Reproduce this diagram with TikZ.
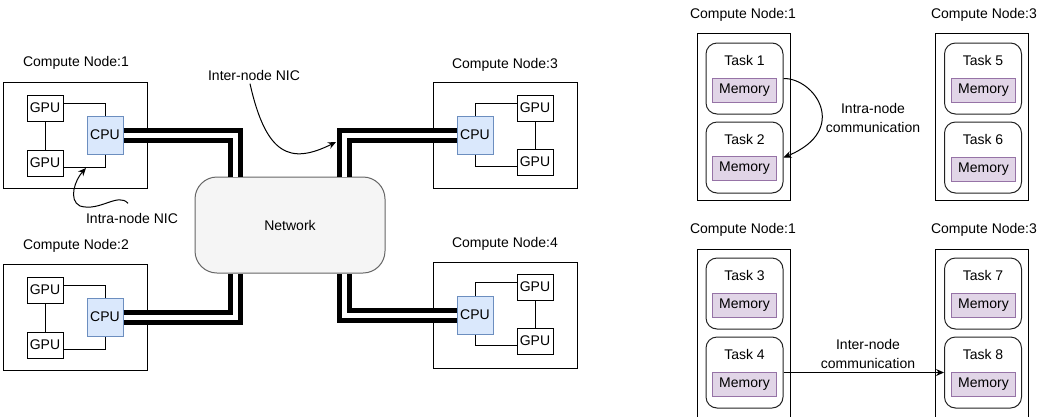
\documentclass[tikz,border=0pt]{standalone}
\usepackage{fontspec}
\setmainfont{Liberation Sans}
\usetikzlibrary{arrows.meta}

\definecolor{cpufill}{HTML}{DAE8FC}
\definecolor{cpuline}{HTML}{6C8EBF}
\definecolor{netfill}{HTML}{F5F5F5}
\definecolor{netline}{HTML}{666666}
\definecolor{memfill}{HTML}{E1D5E7}
\definecolor{memline}{HTML}{9673A6}
\definecolor{taskline}{HTML}{222222}

\tikzset{
  box/.style={draw, line width=1pt, inner sep=0pt},
  gpu/.style={draw, line width=1pt, minimum width=36pt, minimum height=26pt, inner sep=1pt},
  cpu/.style={draw=cpuline, fill=cpufill, line width=1pt, minimum width=36pt, minimum height=38pt, inner sep=1pt},
  netw/.style={draw=netline, fill=netfill, rounded corners=22pt, line width=1pt, minimum width=190pt, minimum height=96pt},
  task/.style={draw=taskline, rounded corners=11pt, line width=1pt, minimum width=77pt, minimum height=71pt},
  mem/.style={draw=memline, fill=memfill, line width=1pt, minimum width=64pt, minimum height=24pt, inner sep=1pt},
  pipe/.style={line width=5pt, double=white, double distance=5pt},
  link/.style={line width=1pt},
  arr/.style={line width=1pt, -{Stealth[length=8pt,width=7pt]}},
}

\begin{document}
\begin{tikzpicture}[x=1pt, y=-1pt, font=\fontsize{14}{19}\selectfont]
  \useasboundingbox (0,0) rectangle (1043,416);
  \clip (0,0) rectangle (1043,416);

  % left: compute nodes around the network
  \begin{scope}[every node/.style={box, minimum width=144pt, minimum height=106pt}]
    \node (cn1) at (75,135) {};
    \node (cn2) at (75,317) {};
    \node (cn3) at (505,135) {};
    \node (cn4) at (505,315) {};
  \end{scope}

  \node (cn1lbl) at (76,63)  {Compute Node:1};
  \node (cn2lbl) at (76,246) {Compute Node:2};
  \node (cn3lbl) at (505,65) {Compute Node:3};
  \node (cn4lbl) at (505,244) {Compute Node:4};

  \begin{scope}[every node/.style={gpu}]
    \node (g1a) at (45,108)  {GPU};
    \node (g1b) at (45,163)  {GPU};
    \node (g2a) at (45,290)  {GPU};
    \node (g2b) at (45,345)  {GPU};
    \node (g3a) at (535,108) {GPU};
    \node (g3b) at (535,162) {GPU};
    \node (g4a) at (535,287) {GPU};
    \node (g4b) at (535,341) {GPU};
  \end{scope}

  \begin{scope}[every node/.style={cpu}]
    \node (c1) at (105,135) {CPU};
    \node (c2) at (105,317) {CPU};
    \node (c3) at (475,135) {CPU};
    \node (c4) at (475,315) {CPU};
  \end{scope}

  \begin{scope}[every path/.style={link}]
    \draw (g1a.15) -| (c1.north);
    \draw (g1b.-15) -| (c1.south);
    \draw (g1a) -- (g1b);
    \draw (g2a.15) -| (c2.north);
    \draw (g2b.-15) -| (c2.south);
    \draw (g2a) -- (g2b);
    \draw (g3a.165) -| (c3.north);
    \draw (g3b.195) -| (c3.south);
    \draw (g3a) -- (g3b);
    \draw (g4a.165) -| (c4.north);
    \draw (g4b.195) -| (c4.south);
    \draw (g4a) -- (g4b);
  \end{scope}

  \node[netw] (net) at (290,225) {Network};

  \draw[pipe] (c1.east) -| ([xshift=41pt]net.north west);
  \draw[pipe] (c2.east) -| ([xshift=41pt]net.south west);
  \draw[pipe] (c3.west) -| ([xshift=-41pt]net.north east);
  \draw[pipe] (c4.west) -| ([xshift=-41pt]net.south east);

  \node (nicinter) at (254,75)  {Inter-node NIC};
  \node (nicintra) at (132,218) {Intra-node NIC};
  \coordinate (intertip) at (336,142);
  \coordinate (intratip) at (86,168);
  \draw[arr] ([xshift=-4pt]nicinter.south) .. controls (266,155) and (290,165) .. (intertip);
  \draw[arr] ([xshift=-4pt,yshift=6pt]nicintra.north) .. controls (118,192) and (100,212) .. (80,206)
    .. controls (68,200) and (75,180) .. (intratip);

  % right: tasks inside compute nodes
  \begin{scope}[every node/.style={box, minimum width=93pt, minimum height=167pt}]
    \node (grp1) at (743.5,116.5) {};
    \node (grp3) at (981.5,116.5) {};
  \end{scope}
  \begin{scope}[every node/.style={box, minimum width=93pt, minimum height=200pt}]
    \node (grp1b) at (743.5,349) {};
    \node (grp3b) at (981.5,349) {};
  \end{scope}

  \node (grp1lbl)  at (743,15)  {Compute Node:1};
  \node (grp3lbl)  at (984,15)  {Compute Node:3};
  \node (grp1blbl) at (743,230) {Compute Node:1};
  \node (grp3blbl) at (984,230) {Compute Node:3};

  \begin{scope}[every node/.style={task}]
    \node (t1) at (744.5,78.5)  {};
    \node (t2) at (744.5,157.5) {};
    \node (t3) at (744.5,293.5) {};
    \node (t4) at (744.5,372.5) {};
    \node (t5) at (983,78.5)  {};
    \node (t6) at (983,157.5) {};
    \node (t7) at (983,293.5) {};
    \node (t8) at (983,372.5) {};
  \end{scope}

  \node (t1lbl) at (744.5,60)  {Task 1};
  \node (t2lbl) at (744.5,139) {Task 2};
  \node (t3lbl) at (744.5,275) {Task 3};
  \node (t4lbl) at (744.5,354) {Task 4};
  \node (t5lbl) at (983,60)  {Task 5};
  \node (t6lbl) at (983,139) {Task 6};
  \node (t7lbl) at (983,275) {Task 7};
  \node (t8lbl) at (983,354) {Task 8};

  \begin{scope}[every node/.style={mem}]
    \node (m1) at (744.5,90)  {Memory};
    \node (m2) at (744.5,168) {Memory};
    \node (m3) at (744.5,305) {Memory};
    \node (m4) at (744.5,384) {Memory};
    \node (m5) at (983.5,90)  {Memory};
    \node (m6) at (983.5,169) {Memory};
    \node (m7) at (983.5,305) {Memory};
    \node (m8) at (983.5,384) {Memory};
  \end{scope}

  \draw[arr] (t1.east) .. controls (815,78) and (850,130) .. (t2.east);
  \draw[arr] (t4.east) -- (t8.west);

  \node[align=center] (intracomm) at (873,118) {Intra-node\\communication};
  \node[align=center] (intercomm) at (868,354) {Inter-node\\communication};

\end{tikzpicture}
\end{document}
